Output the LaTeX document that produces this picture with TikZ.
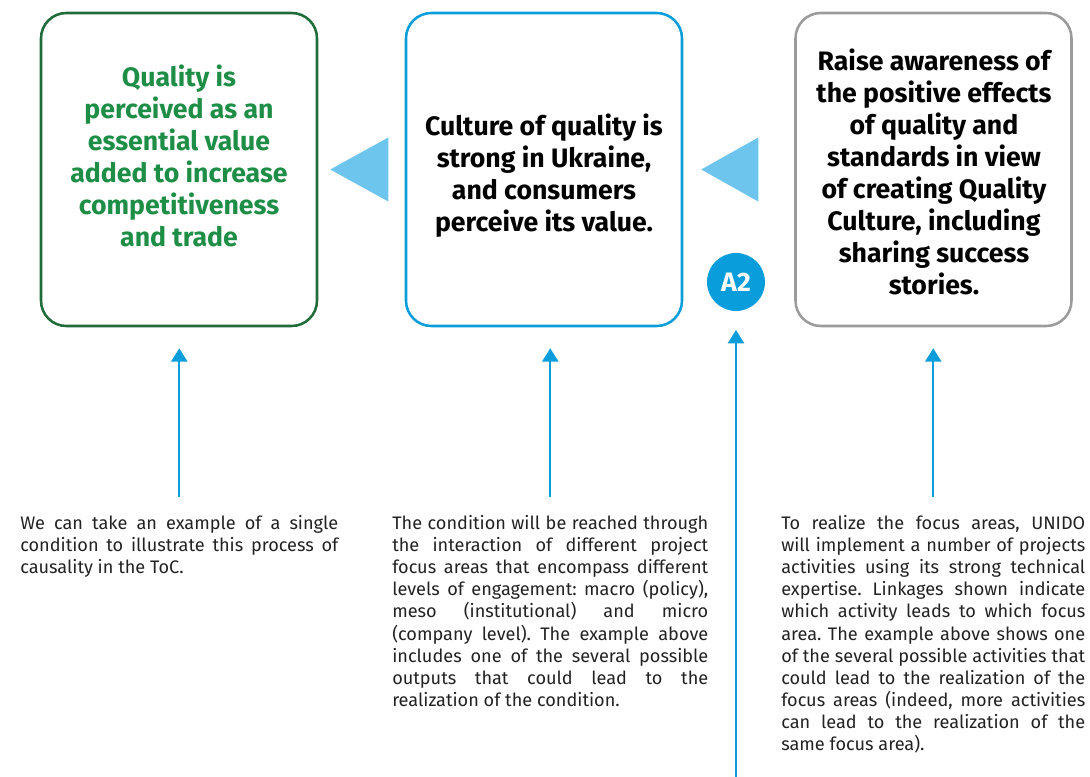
\documentclass[tikz,border=0pt]{standalone}
\usepackage{fontspec}
\setmainfont{Fira Sans}
\usepackage{tikz}
\usetikzlibrary{arrows.meta,positioning}

\definecolor{unidoblue}{HTML}{0A9DDB}
\definecolor{triblue}{HTML}{6DC5EE}
\definecolor{qgreen}{HTML}{1E8E47}
\definecolor{boxgreen}{HTML}{1F6B3A}
\definecolor{boxgrey}{HTML}{9B9B9B}
\definecolor{notegrey}{HTML}{222222}

\frenchspacing
\hyphenpenalty=10000
\exhyphenpenalty=10000
\tolerance=10000

\begin{document}
\begin{tikzpicture}[x=0.75pt,y=-0.75pt,
    box/.style={draw, line width=1.9pt, rounded corners=19pt,
        minimum width=207pt, minimum height=234.75pt, inner sep=0pt},
    head/.style={align=center, font=\bfseries\fontsize{20}{24}\selectfont},
    note/.style={anchor=north west, inner sep=0pt, align=justify,
        font=\fontsize{13.6}{16.6}\selectfont, text=notegrey},
    up/.style={draw=unidoblue, line width=1.7pt,
        -{Triangle[width=12pt,length=10pt]}},
    tri/.style={fill=triblue}]
    \useasboundingbox (0,0) rectangle (1090,777);

    % Draw the three boxes
    \node[box, draw=boxgreen] (goal) at (179,169.5) {};
    \node[box, draw=unidoblue] (cond) at (544,169.5) {};
    \node[box, draw=boxgrey] (act) at (933.5,169.5) {};

    % Texts in the boxes
    \node[head, text=qgreen] (goaltext) at (179,156)
        {Quality is\\perceived as an\\essential value\\added to increase\\competitiveness\\and trade};
    \node[head] (condtext) at (544,176)
        {Culture of quality is\\strong in Ukraine,\\and consumers\\perceive its value.};
    \node[head] (acttext) at (934,172)
        {Raise awareness of\\the positive effects\\of quality and\\standards in view\\of creating Quality\\Culture, including\\sharing success\\stories.};

    % Draw the triangles between the boxes
    \fill[tri] (goal.east) ++(12,0) -- ++(58,-32) -- ++(0,64) -- cycle;
    \fill[tri] (cond.east) ++(18,0) -- ++(57,-32) -- ++(0,64) -- cycle;

    % Draw the A2 badge
    \node[circle, fill=unidoblue, minimum size=43.5pt, inner sep=0pt,
        text=white, font=\bfseries\fontsize{20}{24}\selectfont] (a2) at (736,282) {A2};

    % Draw the notes
    \node[note, text width=238.5pt] (note1) at (20,515)
        {We can take an example of a single\linebreak
        condition to illustrate this process of\linebreak
        causality in the ToC.};
    \node[note, text width=237pt] (note2) at (392,515)
        {The condition will be reached through\linebreak
        the interaction of different project\linebreak
        focus areas that encompass different\linebreak
        levels of engagement: macro (policy),\linebreak
        meso (institutional) and micro\linebreak
        (company level). The example above\linebreak
        includes one of the several possible\linebreak
        outputs that could lead to the\linebreak
        realization of the condition.};
    \node[note, text width=228pt] (note3) at (781,515)
        {To realize the focus areas, UNIDO\linebreak
        will implement a number of projects\linebreak
        activities using its strong technical\linebreak
        expertise. Linkages shown indicate\linebreak
        which activity leads to which focus\linebreak
        area. The example above shows one\linebreak
        of the several possible activities that\linebreak
        could lead to the realization of the\linebreak
        focus areas (indeed, more activities\linebreak
        can lead to the realization of the\linebreak
        same focus area).};

    % Draw arrows from the notes up to the boxes
    \foreach \n/\b in {note1/goal, note2/cond, note3/act}
        \draw[up] ([yshift=13.5pt]\n.north) -- ([yshift=-15.75pt]\n.north |- \b.south);

    \coordinate (bottom) at (736,777);
    \draw[up, shorten >=14pt] (bottom) -- (a2.south);
\end{tikzpicture}
\end{document}
